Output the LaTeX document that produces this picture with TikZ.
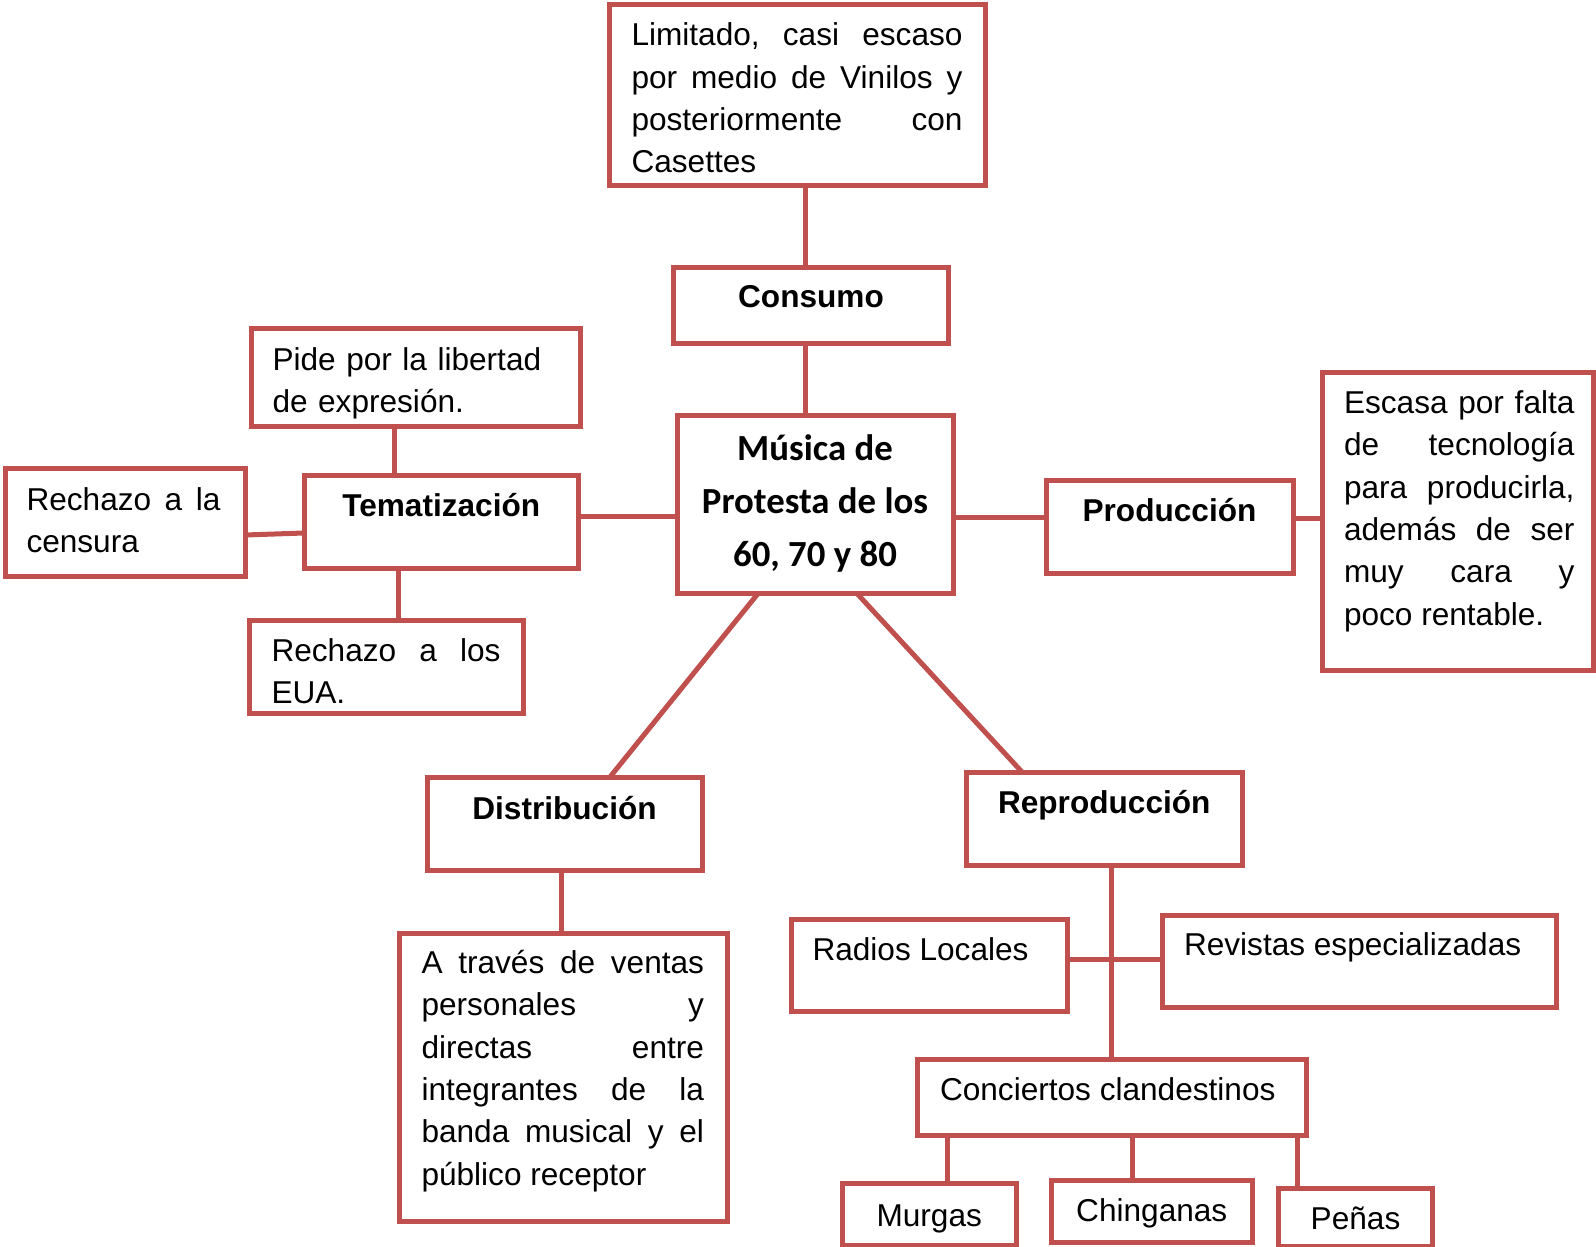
\documentclass[tikz,border=0pt]{standalone}
\usepackage{fontspec}
\setmainfont{Liberation Sans}
\newfontfamily\calibri{Carlito}
\usetikzlibrary{fit,calc}
\definecolor{bred}{HTML}{C0504D}
\begin{document}
\begin{tikzpicture}[x=0.5pt,y=-0.5pt,
  box/.style={draw=bred, line width=2.5pt, rectangle, inner sep=0pt, outer sep=0pt},
  conn/.style={draw=bred, line width=2.5pt},
  txt/.style={inner sep=0pt, outer sep=0pt, anchor=base west, align=justify,
    font=\fontsize{15.8}{21.2}\selectfont,
    execute at begin node={\tolerance=10000 \hbadness=10000 \frenchspacing}},
  ttl/.style={inner sep=0pt, outer sep=0pt, anchor=base, font=\fontsize{15.8}{19}\selectfont\bfseries},
  lbl/.style={inner sep=0pt, outer sep=0pt, anchor=base, font=\fontsize{15.8}{19}\selectfont}]
\useasboundingbox (0,0) rectangle (1596,1247);

% boxes
\node[box, fit={(609,5) (985.5,185.5)}] (lim) {};
\node[box, fit={(673.5,267) (948.5,343.5)}] (cons) {};
\node[box, fit={(677,415) (953,593.5)}] (mus) {};
\node[box, fit={(251,328) (580,426.5)}] (pide) {};
\node[box, fit={(304,475) (578.5,568)}] (tema) {};
\node[box, fit={(5,468.5) (245,576.5)}] (cens) {};
\node[box, fit={(249,620) (523.5,713.5)}] (eua) {};
\node[box, fit={(1046,480) (1293,573.5)}] (prod) {};
\node[box, fit={(1322.5,372) (1593,670)}] (esc) {};
\node[box, fit={(427,777) (702,870)}] (dist) {};
\node[box, fit={(399.5,933.5) (727.5,1221.5)}] (trav) {};
\node[box, fit={(966,772) (1242.5,865)}] (rep) {};
\node[box, fit={(791,919.5) (1067.5,1011.5)}] (rad) {};
\node[box, fit={(1162.5,915) (1556,1007.5)}] (rev) {};
\node[box, fit={(917.5,1059) (1306,1135)}] (conc) {};
\node[box, fit={(842.5,1183) (1016,1245)}] (murg) {};
\node[box, fit={(1051,1180) (1252.5,1242)}] (ching) {};
\node[box, fit={(1278.5,1188) (1432.5,1246)}] (pen) {};

% guide coordinates for connectors
\coordinate (xa) at (805,0);
\coordinate (xb) at (394,0);
\coordinate (xc) at (398,0);
\coordinate (xd) at (561,0);
\coordinate (xe) at (1111,0);
\coordinate (xf) at (947,0);
\coordinate (xg) at (1132,0);
\coordinate (xh) at (1297,0);
\coordinate (ya) at (0,516.5);
\coordinate (yb) at (0,517);
\coordinate (yc) at (0,518.3);
\coordinate (yd) at (0,959);

% connectors
\draw[conn] (lim.south -| xa) -- (cons.north -| xa);
\draw[conn] (cons.south -| xa) -- (mus.north -| xa);
\draw[conn] (tema.east |- ya) -- (mus.west |- ya);
\draw[conn] (pide.south -| xb) -- (tema.north -| xb);
\draw[conn] ($(cens.east)+(0,12.5)$) -- ($(tema.west)+(0,11.5)$);
\draw[conn] (tema.south -| xc) -- (eua.north -| xc);
\draw[conn] (mus.east |- yb) -- (prod.west |- yb);
\draw[conn] (prod.east |- yc) -- (esc.west |- yc);
\draw[conn] ($(mus.south west)+(81,0)$) -- ($(dist.north west)+(183,0)$);
\draw[conn] ($(mus.south west)+(180,0)$) -- ($(rep.north west)+(56,0)$);
\draw[conn] (dist.south -| xd) -- (trav.north -| xd);
\draw[conn] (rep.south -| xe) -- (conc.north -| xe);
\draw[conn] (rad.east |- yd) -- (rev.west |- yd);
\draw[conn] (conc.south -| xf) -- (murg.north -| xf);
\draw[conn] (conc.south -| xg) -- (ching.north -| xg);
\draw[conn] (conc.south -| xh) -- (pen.north -| xh);

% texts
\node[txt, text width=331*0.5pt] (limt) at (631.5,45.7)
  {Limitado, casi escaso\linebreak por medio de Vinilos y\linebreak posteriormente con\linebreak Casettes};
\node[ttl] (const) at ($(cons.north)+(0,40.5)$) {Consumo};
\node[inner sep=0pt, outer sep=0pt, anchor=base, align=center,
  font=\calibri\bfseries\fontsize{18.4}{26.4}\selectfont] (must) at (815,566)
  {Música de\\Protesta de los\\60, 70 y 80};
\node[txt, align=left, text width=300*0.5pt] (pidet) at (272.5,370.5)
  {Pide por la libertad\\de expresión.};
\node[ttl] (temat) at ($(tema.north)+(0,41.5)$) {Tematización};
\node[txt, text width=194*0.5pt] (censt) at (26.5,510)
  {Rechazo a la\linebreak censura};
\node[txt, text width=229*0.5pt] (euat) at (271.5,661.5)
  {Rechazo a los\linebreak EUA.};
\node[ttl] (prodt) at ($(prod.north)+(0,41.5)$) {Producción};
\node[txt, text width=230.5*0.5pt] (esct) at (1344,413.3)
  {Escasa por falta\linebreak de tecnología\linebreak para producirla,\linebreak además de ser\linebreak muy cara y\linebreak poco rentable.};
\node[ttl] (distt) at ($(dist.north)+(0,42)$) {Distribución};
\node[txt, text width=282.5*0.5pt] (travt) at (421.5,973.3)
  {A través de ventas\linebreak personales y\linebreak directas entre\linebreak integrantes de la\linebreak banda musical y el\linebreak público receptor};
\node[ttl] (rept) at ($(rep.north)+(0,41.5)$) {Reproducción};
\node[lbl, anchor=base west] (radt) at (812.5,960) {Radios Locales};
\node[lbl, anchor=base west] (revt) at (1184,955) {Revistas especializadas};
\node[lbl, anchor=base west] (conct) at (940,1100) {Conciertos clandestinos};
\node[lbl] (murgt) at ($(murg.north)+(0,43)$) {Murgas};
\node[lbl] (chingt) at ($(ching.north)+(0,41.7)$) {Chinganas};
\node[lbl] (pent) at ($(pen.north)+(0,41.3)$) {Peñas};
\end{tikzpicture}
\end{document}
